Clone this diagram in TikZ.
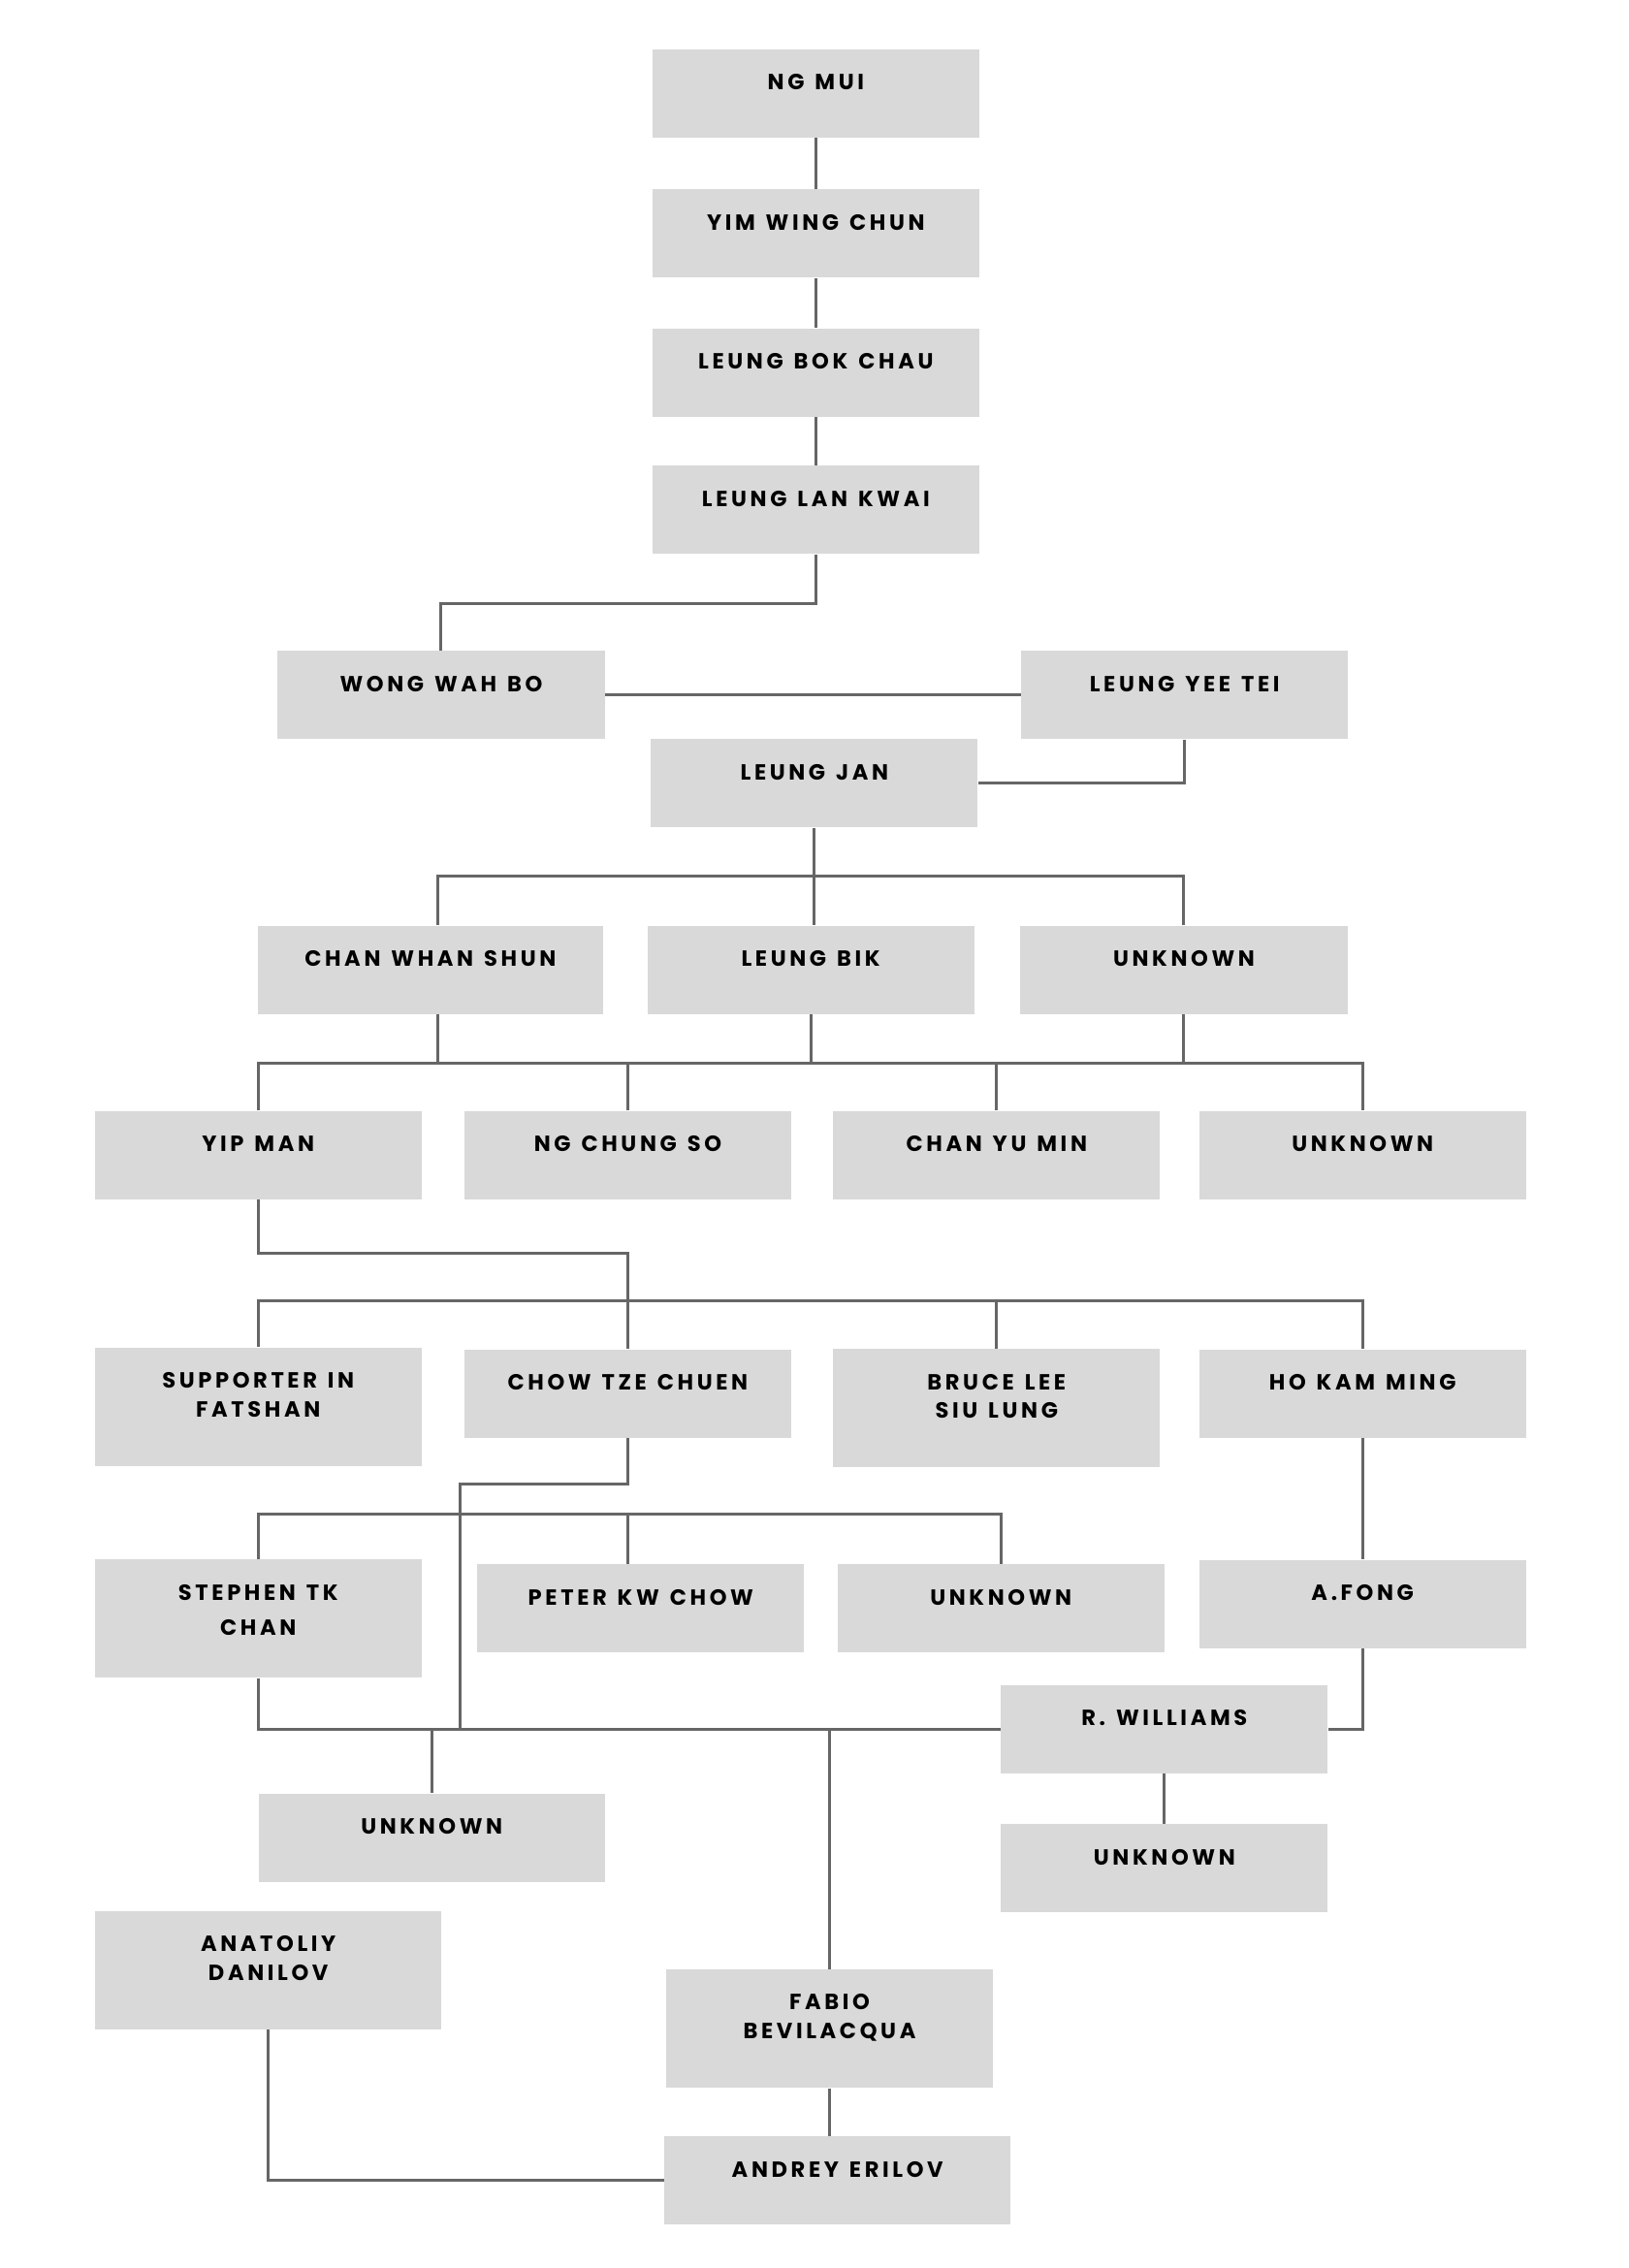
\documentclass[tikz,border=0pt]{standalone}
\usepackage{fontspec}
\setmainfont{Poppins}[LetterSpace=16,WordSpace=1.3]
\definecolor{boxgray}{HTML}{D9D9D9}
\definecolor{linegray}{HTML}{666666}

\begin{document}
\begin{tikzpicture}[x=0.746pt,y=-0.746pt,
    person/.style={rectangle,fill=boxgray,minimum width=168.6pt,inner sep=0pt,
      align=center,text height=21pt,text depth=24.5pt,
      font=\bfseries\fontsize{11.3}{15}\selectfont},
    wide/.style={minimum width=178.3pt},
    tall/.style={text height=36pt,text depth=25.2pt},
    link/.style={linegray,line width=1.5pt}]
    % page, in pixels of the chart (y runs down)
    \useasboundingbox (0,0) rectangle (1126,1568);

    % founders
    \node[person] (ngmui)   at (564,64.5)  {NG MUI};
    \node[person] (yimwc)   at (564,161.5) {YIM WING CHUN};
    \node[person] (bokchau) at (564,257.5) {LEUNG BOK CHAU};
    \node[person] (lankwai) at (564,352.5) {LEUNG LAN KWAI};
    \node[person] (wahbo)   at (305,480.5) {WONG WAH BO};
    \node[person] (yeetei)  at (819,480.5) {LEUNG YEE TEI};
    \node[person] (leungjan) at (563,541.5) {LEUNG JAN};

    % third row
    \node[person,wide] (whanshun) at (297.5,670.5) {CHAN WHAN SHUN};
    \node[person] (leungbik) at (560.5,670.5) {LEUNG BIK};
    \node[person] (unknownA) at (818.5,670.5) {UNKNOWN};

    % fourth row
    \node[person] (yipman)   at (178.5,798.5) {YIP MAN};
    \node[person] (chungso)  at (434,798.5)   {NG CHUNG SO};
    \node[person] (yumin)    at (689,798.5)   {CHAN YU MIN};
    \node[person] (unknownB) at (942,798.5)   {UNKNOWN};

    % students of yip man
    \node[person,tall] (fatshan) at (178.5,972.5) {SUPPORTER IN\\FATSHAN};
    \node[person] (tzechuen) at (434,963.5) {CHOW TZE CHUEN};
    \node[person,tall] (brucelee) at (689,973.5) {BRUCE LEE\\SIU LUNG};
    \node[person] (hokam) at (942,963.5) {HO KAM MING};

    % next generation
    \node[person,tall,text height=39pt,text depth=22.2pt] (stephen) at (178.5,1119) {STEPHEN TK\\[3pt]CHAN};
    \node[person] (peterkw)  at (443,1112) {PETER KW CHOW};
    \node[person] (unknownC) at (692,1112) {UNKNOWN};
    \node[person] (afong)    at (942,1109) {A.FONG};
    \node[person] (williams) at (805,1195.5) {R. WILLIAMS};
    \node[person,wide] (unknownD) at (298.5,1270.5) {UNKNOWN};
    \node[person] (unknownE) at (805,1291.5) {UNKNOWN};

    % bottom
    \node[person,wide,tall] (danilov) at (185.5,1362) {ANATOLIY\\DANILOV};
    \node[person,tall] (fabio) at (573.5,1402.5) {FABIO\\BEVILACQUA};
    \node[person,wide] (erilov) at (579,1507.5) {ANDREY ERILOV};

    % bus lines
    \coordinate (busB) at (0,735);
    \coordinate (busC) at (0,899);
    \coordinate (busD) at (0,1047);
    \coordinate (chowend) at (318,1195.5);

    % connectors
    \foreach \a/\b in {ngmui/yimwc,yimwc/bokchau,bokchau/lankwai}
      \draw[link] (\a.south) -- (\b.north);
    \draw[link] (lankwai.south) -- ++(0,34) -| (wahbo.north);
    \draw[link] (wahbo.east) -- (yeetei.west);
    \draw[link] (yeetei.south) |- (leungjan.east);
    \draw[link] ([xshift=4pt]whanshun.north) -- ++(0,-34) -| (unknownA.north);
    \draw[link] (leungjan.south) -- (leungjan.south |- leungbik.north);

    \draw[link] (yipman.north) -- (yipman.north |- busB) -| (unknownB.north);
    \draw[link] ([xshift=4pt]whanshun.south) -- ([xshift=4pt]whanshun.south |- busB);
    \foreach \n in {leungbik,unknownA}
      \draw[link] (\n.south) -- (\n.south |- busB);
    \foreach \n in {chungso,yumin}
      \draw[link] (\n.north) -- (\n.north |- busB);

    \draw[link] (yipman.south) -- ++(0,37) -| (tzechuen.north);
    \draw[link] (fatshan.north) -- (fatshan.north |- busC) -| (hokam.north);
    \draw[link] (brucelee.north) -- (brucelee.north |- busC);

    \draw[link] (tzechuen.south) -- ++(0,32) -| (chowend);
    \draw[link] (stephen.north) -- (stephen.north |- busD) -| (unknownC.north);
    \draw[link] (tzechuen.south |- busD) -- (tzechuen.south |- peterkw.north);
    \draw[link] (hokam.south) -- (afong.north);
    \draw[link] (afong.south) |- (williams.east);

    \draw[link] (stephen.south) |- (williams.west);
    \draw[link] (unknownD.north) -- (unknownD.north |- williams.west);
    \draw[link] (fabio.north) -- (fabio.north |- williams.west);
    \draw[link] (williams.south) -- (unknownE.north);
    \draw[link] (fabio.south) -- (fabio.south |- erilov.north);
    \draw[link] (danilov.south) |- (erilov.west);
  \end{tikzpicture}
\end{document}
